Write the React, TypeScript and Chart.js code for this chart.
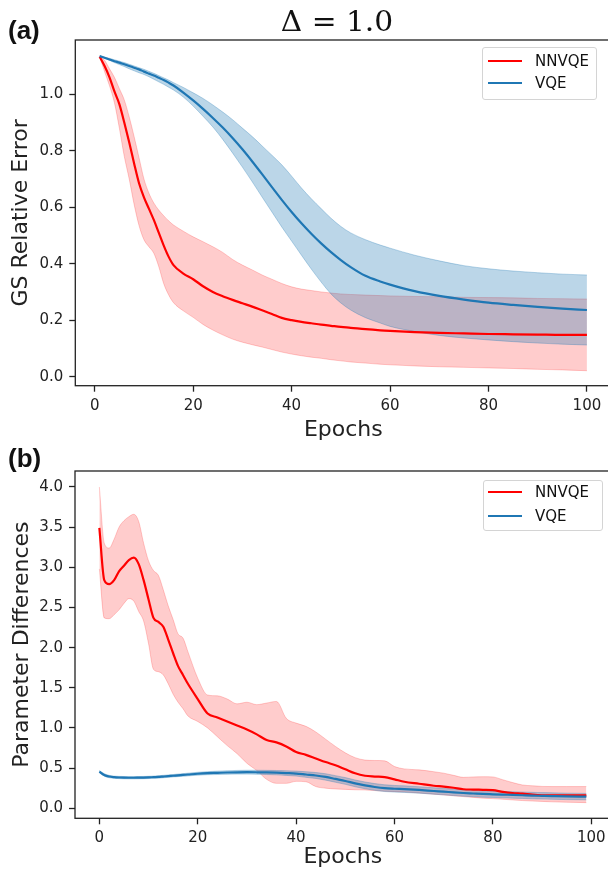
import React, { useEffect, useRef } from "react";
import { Chart, registerables } from "chart.js";

Chart.register(...registerables);

// ---------------- data ----------------
const SERIES_NAMES = ["NNVQE", "VQE"];
const PANEL_TITLE = "Δ = 1.0";
const X_LABEL = "Epochs";
const TOP_Y_LABEL = "GS Relative Error";
const BOT_Y_LABEL = "Parameter Differences";

const X_TICKS = [0, 20, 40, 60, 80, 100];
const TOP_Y_TICKS = [0.0, 0.2, 0.4, 0.6, 0.8, 1.0];
const BOT_Y_TICKS = [0.0, 0.5, 1.0, 1.5, 2.0, 2.5, 3.0, 3.5, 4.0];

// Panel (a): GS relative error
const TOP_EPOCHS = [1, 2, 3, 4, 5, 6, 7, 8, 9, 10, 11, 12, 13, 14, 15, 16, 18, 20, 22, 24, 26, 28, 30, 32, 34, 36, 38, 40, 42, 44, 46, 48, 50, 52, 55, 58, 60, 65, 70, 75, 80, 85, 90, 95, 100];
const TOP_NNVQE_MEAN = [1.133, 1.10, 1.06, 1.01, 0.965, 0.90, 0.83, 0.755, 0.685, 0.635, 0.595, 0.555, 0.51, 0.465, 0.425, 0.395, 0.365, 0.345, 0.32, 0.30, 0.285, 0.272, 0.26, 0.248, 0.235, 0.222, 0.208, 0.20, 0.194, 0.189, 0.184, 0.18, 0.176, 0.173, 0.168, 0.164, 0.162, 0.158, 0.155, 0.153, 0.151, 0.15, 0.149, 0.148, 0.148];
const TOP_NNVQE_HIGH = [1.135, 1.12, 1.09, 1.06, 1.02, 0.98, 0.92, 0.85, 0.775, 0.70, 0.65, 0.615, 0.59, 0.57, 0.552, 0.537, 0.515, 0.495, 0.478, 0.46, 0.44, 0.415, 0.395, 0.378, 0.36, 0.345, 0.33, 0.318, 0.31, 0.305, 0.30, 0.296, 0.293, 0.291, 0.289, 0.287, 0.286, 0.284, 0.283, 0.281, 0.28, 0.279, 0.277, 0.276, 0.275];
const TOP_NNVQE_LOW = [1.133, 1.08, 1.03, 0.97, 0.88, 0.78, 0.70, 0.61, 0.535, 0.485, 0.46, 0.437, 0.39, 0.33, 0.29, 0.262, 0.233, 0.21, 0.185, 0.165, 0.148, 0.133, 0.122, 0.113, 0.105, 0.096, 0.087, 0.08, 0.074, 0.069, 0.065, 0.06, 0.056, 0.052, 0.048, 0.044, 0.042, 0.038, 0.035, 0.033, 0.031, 0.029, 0.026, 0.024, 0.021];
const TOP_VQE_MEAN = [1.135, 1.129, 1.123, 1.117, 1.112, 1.106, 1.10, 1.094, 1.088, 1.08, 1.073, 1.066, 1.058, 1.05, 1.041, 1.031, 1.006, 0.978, 0.948, 0.916, 0.882, 0.845, 0.805, 0.762, 0.717, 0.671, 0.626, 0.583, 0.543, 0.506, 0.472, 0.441, 0.413, 0.388, 0.357, 0.337, 0.326, 0.303, 0.286, 0.273, 0.262, 0.254, 0.247, 0.241, 0.236];
const TOP_VQE_HIGH = [1.135, 1.131, 1.127, 1.122, 1.117, 1.112, 1.106, 1.10, 1.094, 1.088, 1.081, 1.074, 1.066, 1.058, 1.05, 1.041, 1.024, 1.005, 0.985, 0.962, 0.937, 0.91, 0.88, 0.85, 0.817, 0.784, 0.75, 0.71, 0.668, 0.63, 0.595, 0.561, 0.532, 0.509, 0.485, 0.466, 0.455, 0.43, 0.41, 0.393, 0.382, 0.374, 0.368, 0.363, 0.36];
const TOP_VQE_LOW = [1.135, 1.127, 1.12, 1.112, 1.105, 1.098, 1.09, 1.083, 1.076, 1.07, 1.062, 1.053, 1.044, 1.035, 1.025, 1.015, 0.99, 0.958, 0.922, 0.884, 0.84, 0.792, 0.742, 0.69, 0.636, 0.583, 0.53, 0.48, 0.43, 0.381, 0.335, 0.293, 0.261, 0.236, 0.209, 0.19, 0.178, 0.16, 0.146, 0.137, 0.13, 0.124, 0.119, 0.115, 0.112];

// Panel (b): parameter differences
const BOT_EPOCHS = [0, 1, 2, 3, 4, 5, 6, 7, 8, 9, 10, 11, 12, 13, 14, 15, 16, 17, 18, 20, 22, 24, 26, 28, 30, 32, 34, 36, 38, 40, 42, 44, 46, 48, 50, 52, 54, 56, 58, 60, 62, 65, 68, 70, 72, 74, 76, 78, 80, 82, 84, 86, 88, 90, 92, 95, 99];
const BOT_NNVQE_MEAN = [3.49, 2.84, 2.79, 2.84, 2.95, 3.02, 3.09, 3.12, 3.04, 2.84, 2.6, 2.37, 2.32, 2.26, 2.10, 1.93, 1.77, 1.66, 1.55, 1.36, 1.18, 1.13, 1.08, 1.03, 0.98, 0.92, 0.85, 0.82, 0.77, 0.70, 0.665, 0.62, 0.575, 0.535, 0.485, 0.435, 0.405, 0.395, 0.388, 0.36, 0.33, 0.305, 0.28, 0.27, 0.255, 0.237, 0.233, 0.23, 0.226, 0.205, 0.19, 0.182, 0.17, 0.162, 0.16, 0.16, 0.16];
const BOT_NNVQE_HIGH = [4.0, 3.30, 3.24, 3.35, 3.50, 3.58, 3.63, 3.66, 3.57, 3.30, 3.08, 2.96, 2.90, 2.72, 2.52, 2.35, 2.17, 2.12, 1.95, 1.62, 1.41, 1.40, 1.36, 1.30, 1.32, 1.29, 1.31, 1.33, 1.12, 1.06, 1.02, 0.95, 0.86, 0.77, 0.69, 0.63, 0.60, 0.595, 0.59, 0.52, 0.49, 0.478, 0.455, 0.437, 0.41, 0.385, 0.39, 0.393, 0.39, 0.355, 0.32, 0.29, 0.28, 0.272, 0.27, 0.27, 0.27];
const BOT_NNVQE_LOW = [2.98, 2.37, 2.36, 2.41, 2.47, 2.55, 2.61, 2.58, 2.45, 2.33, 2.05, 1.73, 1.70, 1.66, 1.55, 1.42, 1.32, 1.24, 1.15, 1.08, 1.0, 0.89, 0.78, 0.68, 0.56, 0.47, 0.36, 0.31, 0.31, 0.335, 0.33, 0.27, 0.25, 0.24, 0.235, 0.23, 0.228, 0.22, 0.212, 0.207, 0.203, 0.19, 0.175, 0.166, 0.155, 0.145, 0.135, 0.126, 0.12, 0.112, 0.104, 0.096, 0.09, 0.085, 0.08, 0.075, 0.07];
const BOT_VQE_MEAN = [0.456, 0.415, 0.395, 0.387, 0.383, 0.381, 0.38, 0.38, 0.381, 0.382, 0.384, 0.387, 0.39, 0.395, 0.40, 0.405, 0.41, 0.415, 0.42, 0.43, 0.437, 0.441, 0.445, 0.448, 0.449, 0.448, 0.446, 0.443, 0.438, 0.432, 0.42, 0.408, 0.39, 0.365, 0.34, 0.31, 0.285, 0.265, 0.25, 0.243, 0.238, 0.228, 0.215, 0.207, 0.198, 0.19, 0.184, 0.178, 0.174, 0.17, 0.166, 0.162, 0.158, 0.155, 0.152, 0.148, 0.145];
const BOT_VQE_HIGH = [0.47, 0.43, 0.41, 0.40, 0.397, 0.395, 0.394, 0.394, 0.395, 0.396, 0.398, 0.401, 0.405, 0.41, 0.415, 0.42, 0.426, 0.431, 0.437, 0.448, 0.456, 0.462, 0.467, 0.471, 0.473, 0.473, 0.472, 0.47, 0.467, 0.463, 0.455, 0.445, 0.43, 0.406, 0.382, 0.352, 0.327, 0.307, 0.292, 0.284, 0.279, 0.268, 0.255, 0.247, 0.238, 0.23, 0.224, 0.218, 0.214, 0.21, 0.206, 0.202, 0.198, 0.195, 0.192, 0.188, 0.185];
const BOT_VQE_LOW = [0.442, 0.40, 0.38, 0.374, 0.369, 0.367, 0.366, 0.366, 0.367, 0.368, 0.37, 0.373, 0.375, 0.38, 0.385, 0.39, 0.394, 0.399, 0.403, 0.412, 0.418, 0.42, 0.423, 0.425, 0.425, 0.423, 0.42, 0.416, 0.409, 0.401, 0.385, 0.371, 0.35, 0.324, 0.298, 0.268, 0.243, 0.223, 0.208, 0.202, 0.197, 0.188, 0.175, 0.167, 0.158, 0.15, 0.144, 0.138, 0.134, 0.13, 0.126, 0.122, 0.118, 0.115, 0.112, 0.108, 0.105];

// ---------------- styles ----------------
const RED = "#ff0000";
const BLUE = "#1f77b4";
const RED_FILL = "rgba(255,0,0,0.2)";
const BLUE_FILL = "rgba(31,119,180,0.3)";
const INK = "#222222";
const SANS = "'DejaVu Sans', sans-serif";
const CANVAS_W = 620;

type Panel = {
  epochs: number[];
  nnMean: number[]; nnLow: number[]; nnHigh: number[];
  vqMean: number[]; vqLow: number[]; vqHigh: number[];
  xMin: number; xMax: number; yMin: number; yMax: number;
  yTicks: number[]; yLabel: string;
  height: number; areaLeft: number; areaTop: number; areaRight: number; areaBottom: number;
  yTitlePad: number; xTitlePad: number;
};

const framePlugin = {
  id: "frame",
  afterDatasetsDraw(chart: any) {
    const { ctx, chartArea: a } = chart;
    ctx.save();
    ctx.strokeStyle = INK;
    ctx.lineWidth = 1.3;
    ctx.strokeRect(a.left, a.top, a.right - a.left, a.bottom - a.top);
    ctx.restore();
  },
};

function pts(xs: number[], ys: number[]) {
  return xs.map((x, i) => ({ x, y: ys[i] }));
}

function buildConfig(p: Panel): any {
  const common = { pointRadius: 0, pointHoverRadius: 0, cubicInterpolationMode: "monotone" };
  return {
    type: "line",
    data: {
      datasets: [
        { ...common, label: SERIES_NAMES[1], data: pts(p.epochs, p.vqMean), borderColor: BLUE, borderWidth: 2.2, fill: false, order: 1 },
        { ...common, label: SERIES_NAMES[0], data: pts(p.epochs, p.nnMean), borderColor: RED, borderWidth: 2.2, fill: false, order: 2 },
        { ...common, label: SERIES_NAMES[1] + " low", data: pts(p.epochs, p.vqLow), borderColor: BLUE_FILL, borderWidth: 1, fill: false, order: 3 },
        { ...common, label: SERIES_NAMES[1] + " high", data: pts(p.epochs, p.vqHigh), borderColor: BLUE_FILL, backgroundColor: BLUE_FILL, borderWidth: 1, fill: 2, order: 3 },
        { ...common, label: SERIES_NAMES[0] + " low", data: pts(p.epochs, p.nnLow), borderColor: RED_FILL, borderWidth: 1, fill: false, order: 4 },
        { ...common, label: SERIES_NAMES[0] + " high", data: pts(p.epochs, p.nnHigh), borderColor: RED_FILL, backgroundColor: RED_FILL, borderWidth: 1, fill: 4, order: 4 },
      ],
    },
    options: {
      responsive: false,
      animation: false,
      events: [],
      layout: { padding: { left: 0, top: p.areaTop, right: CANVAS_W - p.areaRight, bottom: 0 } },
      plugins: { legend: { display: false }, tooltip: { enabled: false }, title: { display: false } },
      scales: {
        x: {
          type: "linear",
          min: p.xMin,
          max: p.xMax,
          afterFit: (s: any) => { s.height = p.height - p.areaBottom; },
          afterBuildTicks: (s: any) => { s.ticks = X_TICKS.map((v) => ({ value: v })); },
          border: { display: false },
          grid: { display: true, drawOnChartArea: false, drawTicks: true, tickLength: 6, tickColor: INK, tickWidth: 1.3 },
          ticks: { autoSkip: false, maxRotation: 0, padding: 5, color: INK, font: { family: SANS, size: 15 }, callback: (v: any) => String(v) },
          title: { display: true, text: X_LABEL, color: INK, font: { family: SANS, size: 22 }, padding: { top: 0, bottom: p.xTitlePad } },
        },
        y: {
          type: "linear",
          min: p.yMin,
          max: p.yMax,
          afterFit: (s: any) => { s.width = p.areaLeft; },
          afterBuildTicks: (s: any) => { s.ticks = p.yTicks.map((v) => ({ value: v })); },
          border: { display: false },
          grid: { display: true, drawOnChartArea: false, drawTicks: true, tickLength: 6, tickColor: INK, tickWidth: 1.3 },
          ticks: { autoSkip: false, padding: 6, color: INK, font: { family: SANS, size: 15 }, callback: (v: any) => Number(v).toFixed(1) },
          title: { display: true, text: p.yLabel, color: INK, font: { family: SANS, size: 22 }, padding: { top: p.yTitlePad, bottom: 0 } },
        },
      },
    },
    plugins: [framePlugin],
  };
}

const TOP_PANEL: Panel = {
  epochs: TOP_EPOCHS,
  nnMean: TOP_NNVQE_MEAN, nnLow: TOP_NNVQE_LOW, nnHigh: TOP_NNVQE_HIGH,
  vqMean: TOP_VQE_MEAN, vqLow: TOP_VQE_LOW, vqHigh: TOP_VQE_HIGH,
  xMin: -3.95, xMax: 104.95, yMin: -0.032, yMax: 1.192,
  yTicks: TOP_Y_TICKS, yLabel: TOP_Y_LABEL,
  height: 445, areaLeft: 75.3, areaTop: 40, areaRight: 611.3, areaBottom: 385.7,
  yTitlePad: 8.5, xTitlePad: 1.7,
};

const BOT_PANEL: Panel = {
  epochs: BOT_EPOCHS,
  nnMean: BOT_NNVQE_MEAN, nnLow: BOT_NNVQE_LOW, nnHigh: BOT_NNVQE_HIGH,
  vqMean: BOT_VQE_MEAN, vqLow: BOT_VQE_LOW, vqHigh: BOT_VQE_HIGH,
  xMin: -4.95, xMax: 103.95, yMin: -0.125, yMax: 4.199,
  yTicks: BOT_Y_TICKS, yLabel: BOT_Y_LABEL,
  height: 433, areaLeft: 75, areaTop: 26, areaRight: 610.7, areaBottom: 373.3,
  yTitlePad: 9.2, xTitlePad: 7.3,
};

function LegendBox(props: { left: number; top: number; width: number; height: number; rows: { y: number; color: string; label: string }[] }) {
  const { left, top, width, height, rows } = props;
  return (
    <>
      <div style={{ position: "absolute", left, top, width, height, boxSizing: "border-box", border: "1px solid #d4d4d4", borderRadius: 3, background: "rgba(255,255,255,0.8)" }} />
      {rows.map((r) => (
        <React.Fragment key={r.label}>
          <div style={{ position: "absolute", left: 488, top: r.y - 1.1, width: 34, height: 2.2, background: r.color }} />
          <div style={{ position: "absolute", left: 535, top: r.y - 9, height: 18, lineHeight: "18px", fontFamily: SANS, fontSize: 15, color: "#111", whiteSpace: "nowrap" }}>{r.label}</div>
        </React.Fragment>
      ))}
    </>
  );
}

export default function App() {
  const topRef = useRef<HTMLCanvasElement>(null);
  const botRef = useRef<HTMLCanvasElement>(null);

  useEffect(() => {
    const c1 = new Chart(topRef.current as HTMLCanvasElement, buildConfig(TOP_PANEL));
    const c2 = new Chart(botRef.current as HTMLCanvasElement, buildConfig(BOT_PANEL));
    return () => { c1.destroy(); c2.destroy(); };
  }, []);

  return (
    <div style={{ position: "absolute", left: 0, top: 0, width: 608, height: 878, overflow: "hidden", background: "#fff" }}>
      <canvas ref={topRef} width={CANVAS_W} height={TOP_PANEL.height} style={{ position: "absolute", left: 0, top: 0, width: CANVAS_W, height: TOP_PANEL.height }} />
      <canvas ref={botRef} width={CANVAS_W} height={BOT_PANEL.height} style={{ position: "absolute", left: 0, top: 445, width: CANVAS_W, height: BOT_PANEL.height }} />
      <div style={{ position: "absolute", left: 0, top: 7.5, width: 674, textAlign: "center", fontFamily: "'DejaVu Serif', serif", fontSize: 27, lineHeight: "27px", color: "#111", whiteSpace: "nowrap", transform: "scaleX(1.1)", transformOrigin: "337px 50%" }}>{PANEL_TITLE}</div>
      <div style={{ position: "absolute", left: 8, top: 17, fontFamily: "'Liberation Sans', Arial, sans-serif", fontWeight: "bold", fontSize: 26, lineHeight: "26px", color: "#111" }}>(a)</div>
      <div style={{ position: "absolute", left: 8, top: 445, fontFamily: "'Liberation Sans', Arial, sans-serif", fontWeight: "bold", fontSize: 26, lineHeight: "26px", color: "#111" }}>(b)</div>
      <LegendBox left={482} top={47} width={115} height={53} rows={[{ y: 60.7, color: RED, label: SERIES_NAMES[0] }, { y: 82.7, color: BLUE, label: SERIES_NAMES[1] }]} />
      <LegendBox left={483} top={480} width={120} height={51} rows={[{ y: 492.3, color: RED, label: SERIES_NAMES[0] }, { y: 516, color: BLUE, label: SERIES_NAMES[1] }]} />
    </div>
  );
}
